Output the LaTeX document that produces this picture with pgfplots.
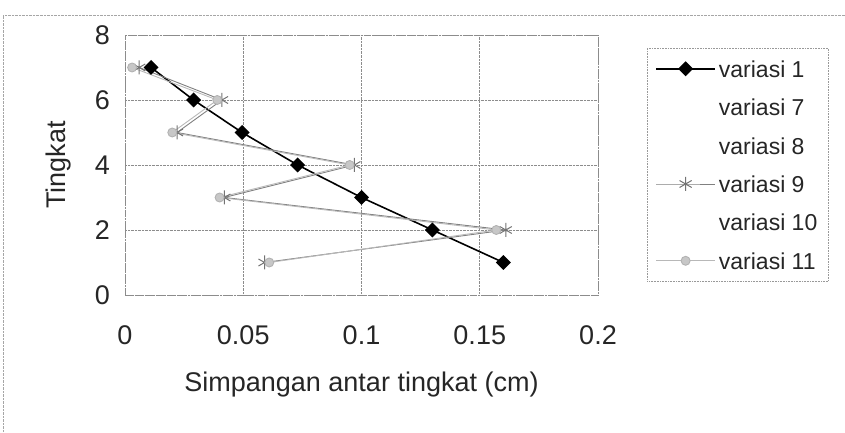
\documentclass[border=0pt]{standalone}
\usepackage{pgfplots}
\pgfplotsset{compat=1.18}
\usepackage{fontspec}
\setmainfont{Liberation Sans}
\begin{document}
\begin{tikzpicture}[x=1bp,y=1bp]
\useasboundingbox (0,0) rectangle (845,433);
\draw[black!35, densely dotted] (3,0) -- (3,418) -- (845,418);
\begin{axis}[
  at={(125bp,138bp)}, anchor=south west,
  scale only axis, width=473bp, height=260bp,
  xmin=0, xmax=0.2, ymin=0, ymax=8,
  xtick={0,0.05,0.1,0.15,0.2},
  xticklabels={0,0.05,0.1,0.15,0.2},
  ytick={0,2,4,6,8},
  scaled x ticks=false,
  grid=major,
  grid style={black!45, densely dotted, line width=0.6pt},
  axis line style={black!45, densely dotted, line width=0.6pt},
  major tick length=0pt,
  /pgf/number format/assume math mode=true,
  tick label style={font=\fontsize{27bp}{30bp}\selectfont, black!85},
  xticklabel style={anchor=center, yshift=-40bp},
  yticklabel style={anchor=east, inner sep=0pt, xshift=-15bp},
  xlabel={Simpangan antar tingkat (cm)},
  ylabel={Tingkat},
  label style={font=\fontsize{27bp}{30bp}\selectfont, black!85},
  xlabel style={at={(axis description cs:0.5,0)}, anchor=center, yshift=-90bp},
  ylabel style={at={(axis description cs:-0.1395,0.5)}, anchor=center},
  legend image code/.code={\draw[solid, mark repeat=2, mark phase=2, #1] plot coordinates {(0bp,0bp) (29.5bp,0bp) (59bp,0bp)};},
  legend cell align=left,
  legend style={
    at={(1.1036,0.95)}, anchor=north west,
    draw=black!40, densely dotted, line width=0.6pt,
    inner xsep=8bp, inner ysep=12bp,
    row sep=21.4bp, column sep=0pt,
    font=\fontsize{23bp}{26bp}\selectfont,
    nodes={inner xsep=3bp, inner ysep=0pt, text height=17bp, text depth=0bp, text=black!85},
  },
]
% variasi 1
\addplot[black, solid, line width=1.6pt, mark=square*, mark size=4.5bp, mark options={rotate=45, solid, fill=black}]
  coordinates {(0.011,7) (0.029,6) (0.0495,5) (0.073,4) (0.100,3) (0.130,2) (0.160,1)};
\addlegendimage{white, draw opacity=0}
\addlegendimage{white, draw opacity=0}
% variasi 9
\addplot[black!50, solid, line width=0.9pt, mark=asterisk, mark size=7bp, mark options={solid, black!55, line width=1pt}]
  coordinates {(0.006,7) (0.041,6) (0.022,5) (0.097,4) (0.042,3) (0.161,2) (0.059,1)};
\addlegendimage{white, draw opacity=0}
% variasi 11
\addplot[black!28, solid, line width=0.9pt, mark=*, mark size=4.5bp, mark options={solid, draw=black!30, fill=black!22}]
  coordinates {(0.003,7) (0.039,6) (0.020,5) (0.095,4) (0.040,3) (0.157,2) (0.061,1)};
\legend{variasi 1, variasi 7, variasi 8, variasi 9, variasi 10, variasi 11}
\end{axis}
\end{tikzpicture}
\end{document}
